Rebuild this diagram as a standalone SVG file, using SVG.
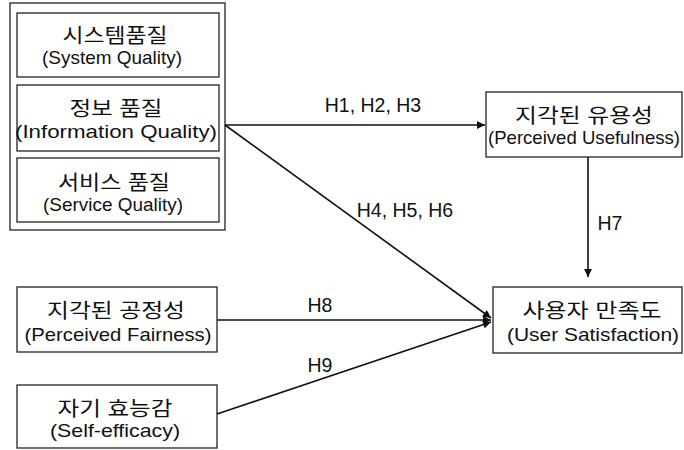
<svg xmlns="http://www.w3.org/2000/svg" width="684" height="450" viewBox="0 0 684 450">
<defs>
<style>
.box{fill:#fff;stroke:#222;stroke-width:1.3}
.ko{font-family:"Liberation Sans","Noto Sans CJK KR",sans-serif;font-size:20px;fill:#111;text-anchor:middle}
.en{font-family:"Liberation Sans","Noto Sans CJK KR",sans-serif;font-size:18.5px;fill:#111;text-anchor:middle}
.lbl{font-family:"Liberation Sans",Arial,sans-serif;font-size:19.5px;fill:#111;text-anchor:middle}
.edge{stroke:#111;stroke-width:1.6;fill:none;marker-end:url(#ah)}
</style>
<marker id="ah" viewBox="0 0 10 10" refX="10" refY="5" markerWidth="10" markerHeight="8" markerUnits="userSpaceOnUse" orient="auto">
<path d="M0,0 L10,5 L0,10 Z" fill="#111"/>
</marker>
</defs>
<rect width="684" height="450" fill="#fff"/>
<g id="quality-group">
<rect class="box" x="10" y="3" width="215" height="227"/>
</g>
<g id="system-quality">
<rect class="box" x="17" y="13" width="202" height="64"/>
<text class="ko" x="115" y="43" textLength="105" lengthAdjust="spacingAndGlyphs">시스템품질</text>
<text class="en" x="112" y="64" textLength="140" lengthAdjust="spacingAndGlyphs">(System Quality)</text>
</g>
<g id="information-quality">
<rect class="box" x="17" y="85" width="202" height="66"/>
<text class="ko" x="116" y="116" textLength="93" lengthAdjust="spacingAndGlyphs">정보 품질</text>
<text class="en" x="116" y="138" textLength="202" lengthAdjust="spacingAndGlyphs">(Information Quality)</text>
</g>
<g id="service-quality">
<rect class="box" x="17" y="158" width="202" height="64"/>
<text class="ko" x="114" y="190" textLength="112" lengthAdjust="spacingAndGlyphs">서비스 품질</text>
<text class="en" x="113" y="211" textLength="140" lengthAdjust="spacingAndGlyphs">(Service Quality)</text>
</g>
<g id="perceived-usefulness">
<rect class="box" x="486" y="92" width="196" height="65"/>
<text class="ko" x="584" y="123" textLength="138" lengthAdjust="spacingAndGlyphs">지각된 유용성</text>
<text class="en" x="584" y="144" textLength="192" lengthAdjust="spacingAndGlyphs">(Perceived Usefulness)</text>
</g>
<g id="user-satisfaction">
<rect class="box" x="493" y="287" width="189" height="66"/>
<text class="ko" x="592" y="318" textLength="139" lengthAdjust="spacingAndGlyphs">사용자 만족도</text>
<text class="en" x="593" y="341" textLength="172" lengthAdjust="spacingAndGlyphs">(User Satisfaction)</text>
</g>
<g id="perceived-fairness">
<rect class="box" x="17" y="287" width="200" height="65"/>
<text class="ko" x="116" y="318" textLength="138" lengthAdjust="spacingAndGlyphs">지각된 공정성</text>
<text class="en" x="118" y="341" textLength="187" lengthAdjust="spacingAndGlyphs">(Perceived Fairness)</text>
</g>
<g id="self-efficacy">
<rect class="box" x="17" y="385" width="200" height="63"/>
<text class="ko" x="115" y="416" textLength="115" lengthAdjust="spacingAndGlyphs">자기 효능감</text>
<text class="en" x="115" y="437" textLength="130" lengthAdjust="spacingAndGlyphs">(Self-efficacy)</text>
</g>
<g id="connectors">
<line class="edge" x1="225" y1="125" x2="485" y2="125"/>
<line class="edge" x1="225" y1="125" x2="491" y2="318"/>
<line class="edge" x1="588" y1="157" x2="588" y2="277"/>
<line class="edge" x1="217" y1="320" x2="491" y2="320"/>
<line class="edge" x1="217" y1="414" x2="491" y2="322"/>
<text class="lbl" x="373" y="112">H1, H2, H3</text>
<text class="lbl" x="405" y="217">H4, H5, H6</text>
<text class="lbl" x="610" y="230">H7</text>
<text class="lbl" x="320" y="312">H8</text>
<text class="lbl" x="320" y="372">H9</text>
</g>
</svg>
